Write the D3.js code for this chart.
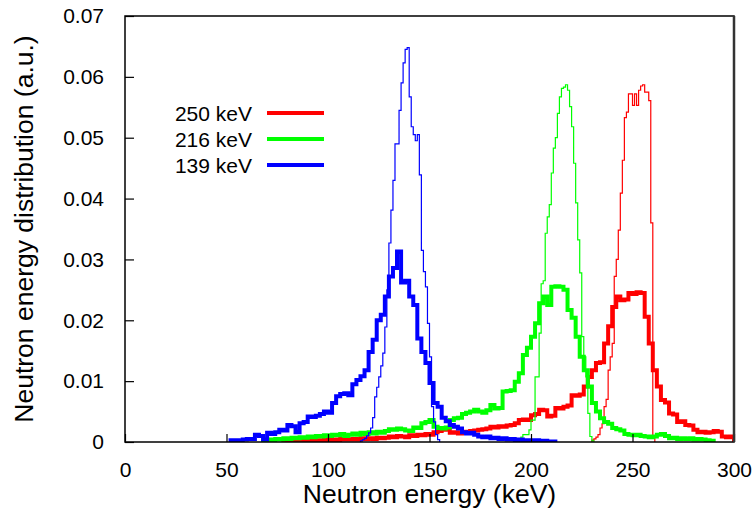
<!DOCTYPE html>
<html>
<head>
<meta charset="utf-8">
<script src="https://cdn.jsdelivr.net/npm/d3@7"></script>
<style>
  html, body { margin: 0; padding: 0; background: #fff; }
  svg { display: block; }
  text { font-family: "Liberation Sans", Arial, Helvetica, sans-serif; fill: #000; }
</style>
</head>
<body>
<svg id="chart" width="756" height="510"></svg>
<script>
// Axis domains and ticks
const xTicks = [0, 50, 100, 150, 200, 250, 300];
const yTicks = [0, 0.01, 0.02, 0.03, 0.04, 0.05, 0.06, 0.07];
const yTickLabels = ["0", "0.01", "0.02", "0.03", "0.04", "0.05", "0.06", "0.07"];

// Legend entries
const legendLabels = ["250 keV", "216 keV", "139 keV"];
const seriesColors = ["#ff0000", "#00ff00", "#0000ff"];

// Bin widths (keV)
const broadBin = 2;
const narrowBin = 1;

// 250 keV: broad spectrum (2 keV bins starting at 78 keV)
const red250BroadStart = 78;
const red250Broad = [
  0.0002, 0.0003, 0.0002, 0.0001, 0.0002, 0.0003, 0.0002, 0.0003, 0.0002, 0.0003,
  0.0004, 0.0003, 0.0004, 0.0003, 0.0005, 0.0004, 0.0004, 0.0005, 0.0004, 0.0006,
  0.0005, 0.0006, 0.0005, 0.0007, 0.0006, 0.0007, 0.0009, 0.0008, 0.0010, 0.0009,
  0.0008, 0.0011, 0.0010, 0.0012, 0.0011, 0.0013, 0.0012, 0.0016, 0.0018, 0.0020,
  0.0021, 0.0015, 0.0016, 0.0014, 0.0017, 0.0016, 0.0018, 0.0019, 0.0020, 0.0021,
  0.0022, 0.0025, 0.0024, 0.0026, 0.0025, 0.0027, 0.0028, 0.0031, 0.0036, 0.0037,
  0.0036, 0.0044, 0.0046, 0.0053, 0.0052, 0.0042, 0.0043, 0.0056, 0.0055, 0.0058,
  0.0060, 0.0077, 0.0076, 0.0078, 0.0091, 0.0107, 0.0118, 0.0130, 0.0131, 0.0162,
  0.0190, 0.0222, 0.0239, 0.0233, 0.0234, 0.0245, 0.0243, 0.0246, 0.0245, 0.0206,
  0.0162, 0.0118, 0.0091, 0.0069, 0.0065, 0.0047, 0.0045, 0.0033, 0.0034, 0.0028,
  0.0027, 0.0020, 0.0016, 0.0017, 0.0015, 0.0016, 0.0018, 0.0017, 0.0009, 0.0008,
  0.0009
];

// 250 keV: narrow spectrum (1 keV bins starting at 230 keV)
const red250NarrowStart = 230;
const red250Narrow = [
  0.0003, 0.0005, 0.0008, 0.0012, 0.0023, 0.0030, 0.0058, 0.0070, 0.0118, 0.0140,
  0.0162, 0.0272, 0.0300, 0.0348, 0.0409, 0.0463, 0.0533, 0.0542, 0.0572, 0.0572,
  0.0553, 0.0572, 0.0553, 0.0578, 0.0585, 0.0587, 0.0575, 0.0575, 0.0561, 0.0360,
  0.0010
];

// 216 keV: broad spectrum (2 keV bins starting at 68 keV)
const green216BroadStart = 68;
const green216Broad = [
  0.0002, 0.0004, 0.0003, 0.0005, 0.0004, 0.0006, 0.0005, 0.0007, 0.0006, 0.0008,
  0.0007, 0.0009, 0.0008, 0.0010, 0.0009, 0.0011, 0.0010, 0.0012, 0.0011, 0.0013,
  0.0010, 0.0012, 0.0014, 0.0012, 0.0015, 0.0013, 0.0016, 0.0014, 0.0017, 0.0015,
  0.0018, 0.0021, 0.0020, 0.0022, 0.0021, 0.0019, 0.0018, 0.0024, 0.0023, 0.0031,
  0.0033, 0.0036, 0.0025, 0.0023, 0.0022, 0.0024, 0.0036, 0.0039, 0.0040, 0.0046,
  0.0048, 0.0050, 0.0053, 0.0050, 0.0048, 0.0052, 0.0061, 0.0055, 0.0056, 0.0083,
  0.0084, 0.0085, 0.0099, 0.0113, 0.0143, 0.0155, 0.0173, 0.0195, 0.0228, 0.0239,
  0.0225, 0.0255, 0.0256, 0.0255, 0.0250, 0.0217, 0.0204, 0.0173, 0.0140, 0.0118,
  0.0091, 0.0064, 0.0050, 0.0039, 0.0033, 0.0030, 0.0023, 0.0021, 0.0019, 0.0013,
  0.0012, 0.0011, 0.0012, 0.0010, 0.0009, 0.0008, 0.0009, 0.0012, 0.0013, 0.0010,
  0.0006, 0.0007, 0.0005, 0.0006, 0.0005, 0.0006, 0.0004, 0.0005, 0.0004, 0.0003,
  0.0002
];

// 216 keV: narrow spectrum (1 keV bins starting at 193 keV)
const green216NarrowStart = 193;
const green216Narrow = [
  0.0003, 0.0005, 0.0008, 0.0012, 0.0012, 0.0012, 0.0020, 0.0036, 0.0036, 0.0107,
  0.0107, 0.0179, 0.0260, 0.0265, 0.0343, 0.0370, 0.0390, 0.0442, 0.0483, 0.0500,
  0.0540, 0.0567, 0.0581, 0.0583, 0.0587, 0.0578, 0.0551, 0.0518, 0.0458, 0.0393,
  0.0332, 0.0278, 0.0173, 0.0140, 0.0107, 0.0047, 0.0009, 0.0002
];

// 139 keV: broad spectrum (2 keV bins starting at 52 keV)
const blue139BroadStart = 52;
const blue139Broad = [
  0.0003, 0.0003, 0.0002, 0.0004, 0.0005, 0.0005, 0.0012, 0.0010, 0.0004, 0.0015,
  0.0013, 0.0016, 0.0020, 0.0019, 0.0028, 0.0026, 0.0016, 0.0031, 0.0033, 0.0042,
  0.0041, 0.0043, 0.0046, 0.0050, 0.0048, 0.0064, 0.0075, 0.0079, 0.0080, 0.0077,
  0.0095, 0.0102, 0.0108, 0.0118, 0.0148, 0.0168, 0.0200, 0.0209, 0.0239, 0.0272,
  0.0286, 0.0313, 0.0262, 0.0265, 0.0239, 0.0225, 0.0170, 0.0148, 0.0130, 0.0097,
  0.0064, 0.0058, 0.0040, 0.0034, 0.0028, 0.0025, 0.0022, 0.0016, 0.0014, 0.0015,
  0.0012, 0.0009, 0.0008, 0.0009, 0.0006, 0.0007, 0.0005, 0.0006, 0.0004, 0.0005,
  0.0003, 0.0004, 0.0002, 0.0003, 0.0002, 0.0003, 0.0002, 0.0002, 0.0001, 0.0001
];

// 139 keV: narrow spectrum (1 keV bins starting at 116 keV)
const blue139NarrowStart = 116;
const blue139Narrow = [
  0.0002, 0.0004, 0.0006, 0.0010, 0.0015, 0.0023, 0.0040, 0.0074, 0.0090, 0.0107,
  0.0125, 0.0146, 0.0189, 0.0250, 0.0327, 0.0381, 0.0430, 0.0490, 0.0490, 0.0545,
  0.0590, 0.0623, 0.0645, 0.0648, 0.0567, 0.0518, 0.0505, 0.0495, 0.0505, 0.0439,
  0.0315, 0.0280, 0.0255, 0.0195, 0.0140, 0.0058, 0.0033, 0.0012, 0.0004
];

// Drawing order: each energy's narrow then broad spectrum
const spectra = [
  { start: red250NarrowStart, bin: narrowBin, values: red250Narrow, color: seriesColors[0], width: 1.2 },
  { start: red250BroadStart, bin: broadBin, values: red250Broad, color: seriesColors[0], width: 4 },
  { start: green216NarrowStart, bin: narrowBin, values: green216Narrow, color: seriesColors[1], width: 1.2 },
  { start: green216BroadStart, bin: broadBin, values: green216Broad, color: seriesColors[1], width: 4 },
  { start: blue139NarrowStart, bin: narrowBin, values: blue139Narrow, color: seriesColors[2], width: 1.2 },
  { start: blue139BroadStart, bin: broadBin, values: blue139Broad, color: seriesColors[2], width: 4 }
];

const svg = d3.select("#chart");
const margin = { left: 125, right: 22, top: 16, bottom: 68 };
const W = 756, H = 510;

const x = d3.scaleLinear().domain([0, 300]).range([margin.left, W - margin.right]);
const y = d3.scaleLinear().domain([0, 0.07]).range([H - margin.bottom, margin.top]);

svg.append("defs").append("clipPath").attr("id", "plotClip")
  .append("rect")
  .attr("x", x(0)).attr("y", y(0.07))
  .attr("width", x(300) - x(0)).attr("height", y(0) - y(0.07));

// Step outline of a histogram: rise from the baseline, follow every bin, drop back
function stepPoints(s) {
  const pts = [[s.start, 0]];
  s.values.forEach((v, i) => pts.push([s.start + i * s.bin, v]));
  const end = s.start + s.values.length * s.bin;
  pts.push([end, s.values[s.values.length - 1]]);
  pts.push([end, 0]);
  return pts;
}

const line = d3.line()
  .x(d => x(d[0]))
  .y(d => y(d[1]))
  .curve(d3.curveStepAfter);

const plot = svg.append("g").attr("clip-path", "url(#plotClip)");
spectra.forEach(s => {
  plot.append("path")
    .datum(stepPoints(s))
    .attr("d", line)
    .attr("fill", "none")
    .attr("stroke", s.color)
    .attr("stroke-width", s.width)
    .attr("stroke-linejoin", "miter");
});

// Axes with inward ticks
const xAxis = d3.axisBottom(x).tickValues(xTicks).tickSize(-8).tickPadding(20)
  .tickFormat(d3.format("d"));
const yAxis = d3.axisLeft(y).tickValues(yTicks).tickSize(-9).tickPadding(21)
  .tickFormat((d, i) => yTickLabels[i]);

const gx = svg.append("g").attr("transform", `translate(0,${y(0)})`).call(xAxis);
const gy = svg.append("g").attr("transform", `translate(${x(0)},0)`).call(yAxis);
[gx, gy].forEach(g => {
  g.select(".domain").remove();
  g.selectAll(".tick line").attr("stroke", "#000").attr("stroke-width", 1.2);
  g.selectAll(".tick text").attr("font-size", 21).attr("font-family", '"Liberation Sans", Arial, sans-serif');
});

// Frame
svg.append("rect")
  .attr("x", x(0)).attr("y", y(0.07))
  .attr("width", x(300) - x(0)).attr("height", y(0) - y(0.07))
  .attr("fill", "none").attr("stroke", "#000").attr("stroke-width", 1.5);
svg.append("line")
  .attr("x1", x(300)).attr("x2", x(300)).attr("y1", y(0.07)).attr("y2", y(0))
  .attr("stroke", "#333").attr("stroke-width", 2.5);

// Axis titles
svg.append("text")
  .attr("x", (x(0) + x(300)) / 2 + 0)
  .attr("y", 503)
  .attr("text-anchor", "middle")
  .attr("font-size", 26.5)
  .text("Neutron energy (keV)");

svg.append("text")
  .attr("transform", `translate(33,${(y(0) + y(0.07)) / 2}) rotate(-90)`)
  .attr("text-anchor", "middle")
  .attr("font-size", 26.5)
  .text("Neutron energy distribution (a.u.)");

// Legend
const legendY = [113, 139, 165];
const legend = svg.append("g");
legendLabels.forEach((lab, i) => {
  legend.append("text")
    .attr("x", 252).attr("y", legendY[i] + 7.5)
    .attr("text-anchor", "end")
    .attr("font-size", 21)
    .text(lab);
  legend.append("line")
    .attr("x1", 267).attr("x2", 324)
    .attr("y1", legendY[i]).attr("y2", legendY[i])
    .attr("stroke", seriesColors[i]).attr("stroke-width", 4);
});
</script>
</body>
</html>
